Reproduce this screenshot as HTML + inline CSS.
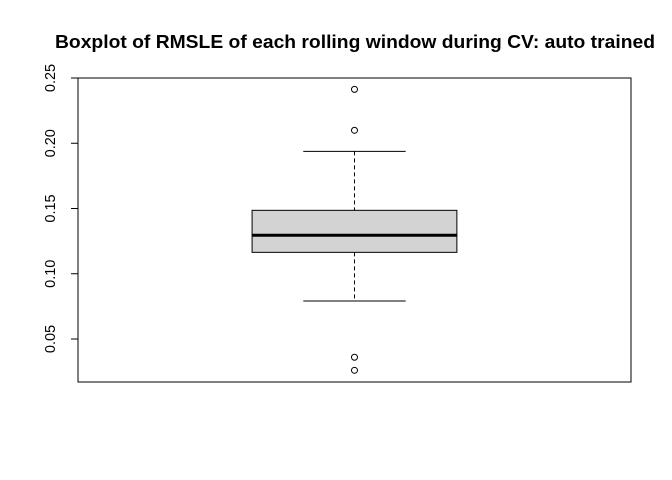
<!DOCTYPE html>
<html><head><meta charset="utf-8"><style>body{margin:0;background:#fff}svg{display:block}text{font-family:"Liberation Sans",Arial,sans-serif}</style></head>
<body>
<svg id="chart" width="672" height="480">
<text x="355" y="48" text-anchor="middle" font-size="18" font-weight="bold" textLength="600" lengthAdjust="spacingAndGlyphs">Boxplot of RMSLE of each rolling window during CV: auto trained</text>
<rect x="78" y="78" width="553" height="304" fill="none" stroke="#000"/>
<g id="axis"></g>
<g id="marks"></g>
</svg>
<script>
const yTicks=[0.05,0.10,0.15,0.20,0.25];
const yTickLabels=["0.05","0.10","0.15","0.20","0.25"];
const stats=[0.0791,0.1164,0.1295,0.1486,0.1938]; // lowWhisker,Q1,median,Q3,highWhisker
const outliers=[0.2413,0.2099,0.0360,0.0260];
const ns="http://www.w3.org/2000/svg";
const y=v=>78+(0.25-v)*1305;
const x=u=>78+(u-0.46)*512;
function mk(tag,attrs,parent){const e=document.createElementNS(ns,tag);for(const k in attrs)e.setAttribute(k,attrs[k]);parent.appendChild(e);return e;}
const ax=document.getElementById('axis'),mg=document.getElementById('marks');
yTicks.forEach((t,i)=>{
 const l=mk('line',{x1:71,x2:78,y1:y(t),y2:y(t),stroke:'#000'},ax);
 
 
 const tx=mk('text',{x:0,y:0,'font-size':14.5,'text-anchor':'middle',transform:`translate(55,${y(t)}) rotate(-90)`},ax);
 tx.textContent=yTickLabels[i];
 
 
});
const c=1.0;
const [lo,q1,md,q3,hi]=stats;
let e;
e=mk('line',{x1:x(c),x2:x(c),y1:y(hi),y2:y(q3),stroke:'#000','stroke-dasharray':'4,3'},mg);


e=mk('line',{x1:x(c),x2:x(c),y1:y(q1),y2:y(lo),stroke:'#000','stroke-dasharray':'4,3'},mg);


e=mk('line',{x1:x(c-0.1),x2:x(c+0.1),y1:y(hi),y2:y(hi),stroke:'#000'},mg);


e=mk('line',{x1:x(c-0.1),x2:x(c+0.1),y1:y(lo),y2:y(lo),stroke:'#000'},mg);


e=mk('rect',{x:x(c-0.2),y:y(q3),width:x(c+0.2)-x(c-0.2),height:y(q1)-y(q3),fill:'#d3d3d3',stroke:'#000'},mg);


e=mk('line',{x1:x(c-0.2),x2:x(c+0.2),y1:y(md),y2:y(md),stroke:'#000','stroke-width':3},mg);


outliers.forEach(v=>{
 const o=mk('circle',{cx:x(c),cy:y(v),r:3,fill:'none',stroke:'#000'},mg);
 
 
});
</script>
</body></html>
